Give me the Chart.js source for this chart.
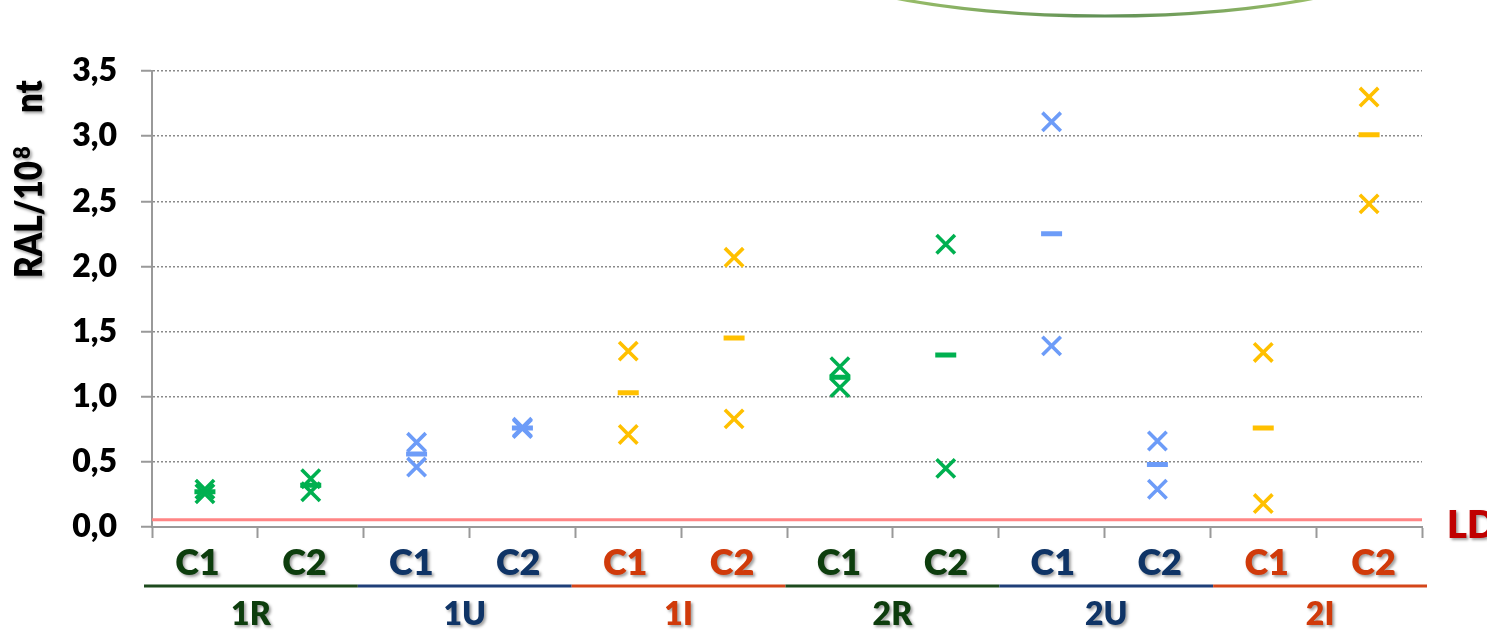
<!DOCTYPE html>
<html>
<head>
<meta charset="utf-8">
<script src="https://cdn.jsdelivr.net/npm/chart.js@4/dist/chart.umd.min.js"></script>
<style>
  html, body { margin: 0; padding: 0; background: #ffffff; }
  canvas { display: block; }
</style>
</head>
<body>
<canvas id="chart" width="1487" height="632"></canvas>
<script>
// Sample columns (two per group) and their groups
const categories = ['C1', 'C2', 'C1', 'C2', 'C1', 'C2', 'C1', 'C2', 'C1', 'C2', 'C1', 'C2'];
const groups = ['1R', '1U', '1I', '2R', '2U', '2I'];
const groupKinds = ['R', 'U', 'I', 'R', 'U', 'I'];

// RAL per 10^8 nt: upper replicate, lower replicate, mean
const highValues = [0.29, 0.37, 0.65, 0.765, 1.35, 2.07, 1.23, 2.17, 3.11, 0.66, 1.34, 3.30];
const lowValues  = [0.255, 0.27, 0.46, 0.755, 0.71, 0.83, 1.07, 0.45, 1.39, 0.29, 0.18, 2.48];
const meanValues = [0.27, 0.32, 0.56, 0.76, 1.03, 1.45, 1.15, 1.32, 2.25, 0.48, 0.76, 3.01];

// Value axis ticks and detection limit
const yTickValues = [0, 0.5, 1.0, 1.5, 2.0, 2.5, 3.0, 3.5];
const detectionLimit = 0.056;
const detectionLabel = 'LD';
const yTitleParts = ['RAL/10', '8', 'nt'];

const markerColors = { R: '#00b050', U: '#6d9cf8', I: '#ffc000' };
const textColors   = { R: '#0d3d0d', U: '#0f3466', I: '#d03a0a' };
const lineColors   = { R: '#1d4a1d', U: '#1f3f78', I: '#d4461a' };

const FONT = 'Lato, "Open Sans", "DejaVu Sans", sans-serif';
const W = '800';
const kindOf = i => groupKinds[Math.floor(i / 2)];
const pointColors = categories.map((_, i) => markerColors[kindOf(i)]);

function shadowText(ctx, text, x, y, o) {
  ctx.save();
  ctx.font = o.font;
  ctx.fillStyle = o.color;
  ctx.textAlign = o.align || 'center';
  ctx.textBaseline = 'alphabetic';
  ctx.shadowColor = 'rgba(0,0,0,0.38)';
  ctx.shadowOffsetX = 2;
  ctx.shadowOffsetY = 2;
  ctx.shadowBlur = 3;
  ctx.translate(x, y);
  if (o.rotate) ctx.rotate(o.rotate);
  if (o.width) {
    const w = ctx.measureText(text).width;
    ctx.scale(o.width / w, 1);
  }
  ctx.fillText(text, 0, 0);
  ctx.restore();
}

const decorPlugin = {
  id: 'decor',
  beforeDraw(chart) {
    // decorative arc along the top edge
    const ctx = chart.ctx;
    ctx.save();
    const g = ctx.createLinearGradient(890, 0, 1320, 0);
    g.addColorStop(0, '#9cc06a');
    g.addColorStop(0.5, '#5f8f55');
    g.addColorStop(1, '#9cc06a');
    ctx.strokeStyle = g;
    ctx.lineWidth = 3.2;
    ctx.filter = 'blur(0.6px)';
    ctx.beginPath();
    ctx.ellipse(1105, -58, 322, 74, 0, 0, Math.PI * 2);
    ctx.stroke();
    ctx.restore();
  },
  beforeDatasetsDraw(chart) {
    const { ctx, chartArea, scales } = chart;
    const y = scales.y.getPixelForValue(detectionLimit);
    ctx.save();
    ctx.strokeStyle = '#ff8585';
    ctx.lineWidth = 3;
    ctx.beginPath();
    ctx.moveTo(chartArea.left, y);
    ctx.lineTo(chartArea.right, y);
    ctx.stroke();
    ctx.restore();
  },
  afterDraw(chart) {
    const { ctx, chartArea, scales } = chart;
    const ldY = scales.y.getPixelForValue(detectionLimit);
    shadowText(ctx, detectionLabel, chartArea.right + 25, ldY + 18,
      { font: W + ' 38px ' + FONT, color: '#c00000', align: 'left' });

    // category table below the axis
    const left = chartArea.left - 8;
    const right = chartArea.right + 5;
    const colW = (right - left) / categories.length;
    const axisY = chartArea.bottom;
    categories.forEach((c, i) => {
      shadowText(ctx, c, left + (i + 0.5) * colW, axisY + 48,
        { font: W + ' 36px ' + FONT, color: textColors[kindOf(i)] });
    });
    const grpW = (right - left) / groups.length;
    ctx.save();
    ctx.lineWidth = 3;
    groups.forEach((g, j) => {
      ctx.strokeStyle = lineColors[groupKinds[j]];
      ctx.beginPath();
      ctx.moveTo(left + j * grpW, axisY + 59);
      ctx.lineTo(left + (j + 1) * grpW, axisY + 59);
      ctx.stroke();
    });
    ctx.restore();
    groups.forEach((g, j) => {
      shadowText(ctx, g, left + (j + 0.5) * grpW, axisY + 98,
        { font: W + ' 32px ' + FONT, color: textColors[groupKinds[j]] });
    });

    // rotated value-axis title with superscript exponent
    const rot = -Math.PI / 2;
    const bx = 42, by = 278;
    shadowText(ctx, yTitleParts[0], bx, by, { font: W + ' 37px ' + FONT, color: '#000', align: 'left', rotate: rot, width: 117 });
    shadowText(ctx, yTitleParts[1], bx - 12, by - 119, { font: W + ' 22px ' + FONT, color: '#000', align: 'left', rotate: rot });
    shadowText(ctx, yTitleParts[2], bx, by - 165, { font: W + ' 37px ' + FONT, color: '#000', align: 'left', rotate: rot, width: 33 });
  }
};

function build() {
  new Chart(document.getElementById('chart'), {
    type: 'line',
    data: {
      labels: categories,
      datasets: [
        {
          label: 'high', data: highValues, showLine: false,
          pointStyle: 'crossRot', pointRadius: 13, pointBorderWidth: 3.6,
          pointBorderColor: pointColors, pointBackgroundColor: pointColors
        },
        {
          label: 'low', data: lowValues, showLine: false,
          pointStyle: 'crossRot', pointRadius: 13, pointBorderWidth: 3.6,
          pointBorderColor: pointColors, pointBackgroundColor: pointColors
        },
        {
          label: 'mean', data: meanValues, showLine: false,
          pointStyle: 'line', pointRadius: 10.5, pointBorderWidth: 5,
          pointBorderColor: pointColors, pointBackgroundColor: pointColors
        }
      ]
    },
    options: {
      responsive: false,
      animation: false,
      events: [],
      layout: { padding: { left: 0, top: 71, right: 65, bottom: 0 } },
      plugins: { legend: { display: false }, tooltip: { enabled: false } },
      scales: {
        x: {
          type: 'category',
          offset: true,
          grid: {
            offset: true, drawOnChartArea: false, drawTicks: true,
            tickLength: 11, tickColor: '#999999', tickWidth: 2
          },
          border: { display: true, color: '#999999', width: 2 },
          ticks: { display: false },
          afterFit: s => { s.height = 105; }
        },
        y: {
          min: 0, max: 3.5,
          afterBuildTicks: s => { s.ticks = yTickValues.map(v => ({ value: v })); },
          grid: {
            color: '#8a8a8a', lineWidth: 1.5,
            drawTicks: true, tickLength: 11, tickColor: '#999999', tickWidth: 2, tickBorderDash: []
          },
          border: { display: true, color: '#999999', width: 2, dash: [2, 2] },
          ticks: {
            padding: 24,
            color: '#000000',
            font: { family: FONT, size: 32, weight: W },
            callback: v => Number(v).toFixed(1).replace('.', ',')
          },
          afterFit: s => { s.width = 152; }
        }
      }
    },
    plugins: [decorPlugin]
  });
}

const fontsReady = document.fonts && document.fonts.load
  ? Promise.all([document.fonts.load(W + ' 32px Lato'), document.fonts.load(W + ' 22px Lato')]).catch(() => {})
  : Promise.resolve();
fontsReady.then(build, build);
</script>
</body>
</html>
